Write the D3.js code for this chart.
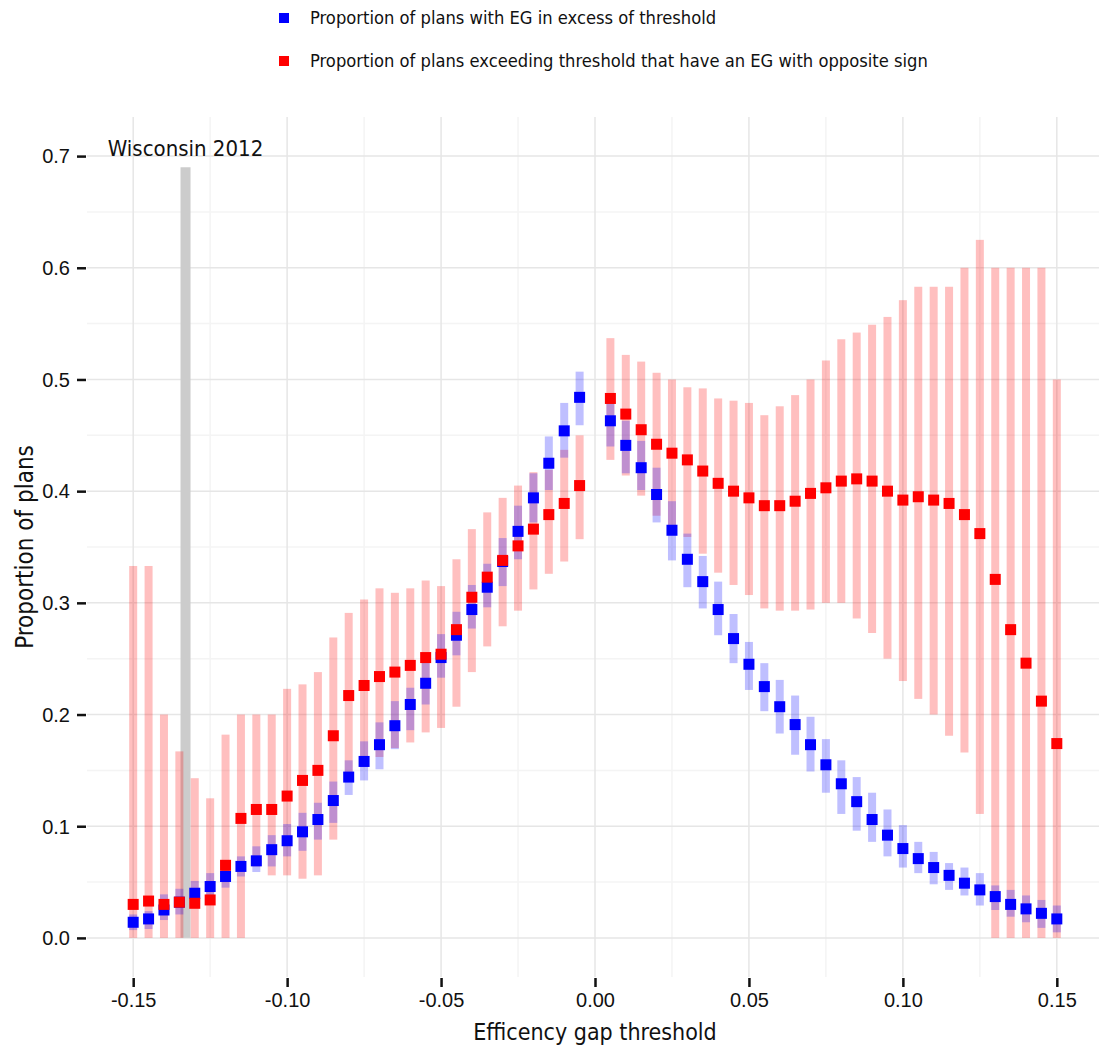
<!DOCTYPE html>
<html>
<head>
<meta charset="utf-8">
<script src="https://cdn.jsdelivr.net/npm/d3@7"></script>
<style>
	body { margin: 0; background: #fff; }
	svg { display: block; font-family: "DejaVu Sans Condensed", "Liberation Sans Narrow", "DejaVu Sans", sans-serif; font-stretch: condensed; }
	.tick text { fill: #111; }
</style>
</head>
<body>
<svg id="chart" width="1099" height="1049"></svg>
<script>
// efficiency gap thresholds (0 is not part of the run)
var thresholds = [-0.150, -0.145, -0.140, -0.135, -0.130, -0.125, -0.120, -0.115, -0.110, -0.105,
	-0.100, -0.095, -0.090, -0.085, -0.080, -0.075, -0.070, -0.065, -0.060, -0.055,
	-0.050, -0.045, -0.040, -0.035, -0.030, -0.025, -0.020, -0.015, -0.010, -0.005,
	0.005, 0.010, 0.015, 0.020, 0.025, 0.030, 0.035, 0.040, 0.045, 0.050,
	0.055, 0.060, 0.065, 0.070, 0.075, 0.080, 0.085, 0.090, 0.095, 0.100,
	0.105, 0.110, 0.115, 0.120, 0.125, 0.130, 0.135, 0.140, 0.145, 0.150];

// proportion of plans with EG in excess of threshold
var excess = [0.014, 0.017, 0.025, 0.032, 0.040, 0.046, 0.055, 0.064, 0.069, 0.079,
	0.087, 0.095, 0.106, 0.123, 0.144, 0.158, 0.173, 0.190, 0.209, 0.228,
	0.251, 0.271, 0.294, 0.314, 0.337, 0.364, 0.394, 0.425, 0.454, 0.484,
	0.463, 0.441, 0.421, 0.397, 0.365, 0.339, 0.319, 0.294, 0.268, 0.245,
	0.225, 0.207, 0.191, 0.173, 0.155, 0.138, 0.122, 0.106, 0.092, 0.080,
	0.071, 0.063, 0.056, 0.049, 0.043, 0.037, 0.030, 0.026, 0.022, 0.017];
var excessLow = [0.007, 0.008, 0.016, 0.021, 0.030, 0.037, 0.045, 0.055, 0.059, 0.064,
	0.073, 0.078, 0.088, 0.103, 0.128, 0.141, 0.151, 0.169, 0.186, 0.209,
	0.233, 0.253, 0.277, 0.296, 0.315, 0.339, 0.372, 0.401, 0.430, 0.459,
	0.440, 0.416, 0.401, 0.372, 0.338, 0.314, 0.295, 0.271, 0.246, 0.222,
	0.203, 0.183, 0.164, 0.149, 0.130, 0.111, 0.096, 0.086, 0.073, 0.063,
	0.058, 0.048, 0.043, 0.038, 0.029, 0.025, 0.019, 0.014, 0.009, 0.005];
var excessHigh = [0.021, 0.024, 0.039, 0.044, 0.051, 0.058, 0.063, 0.073, 0.082, 0.092,
	0.102, 0.112, 0.121, 0.140, 0.159, 0.176, 0.193, 0.212, 0.224, 0.247,
	0.272, 0.292, 0.316, 0.335, 0.358, 0.387, 0.416, 0.449, 0.479, 0.507,
	0.479, 0.463, 0.445, 0.421, 0.391, 0.362, 0.342, 0.319, 0.290, 0.265,
	0.246, 0.231, 0.217, 0.198, 0.178, 0.159, 0.144, 0.130, 0.115, 0.101,
	0.086, 0.077, 0.067, 0.063, 0.058, 0.047, 0.043, 0.038, 0.034, 0.029];

// proportion of plans exceeding threshold that have an EG with opposite sign
var opposite = [0.030, 0.033, 0.030, 0.032, 0.031, 0.034, 0.065, 0.107, 0.115, 0.115,
	0.127, 0.141, 0.150, 0.181, 0.217, 0.226, 0.234, 0.238, 0.244, 0.251,
	0.254, 0.276, 0.305, 0.323, 0.338, 0.351, 0.366, 0.379, 0.389, 0.405,
	0.483, 0.469, 0.455, 0.442, 0.434, 0.428, 0.418, 0.407, 0.400, 0.394,
	0.387, 0.387, 0.391, 0.398, 0.403, 0.409, 0.411, 0.409, 0.400, 0.392,
	0.395, 0.392, 0.389, 0.379, 0.362, 0.321, 0.276, 0.246, 0.212, 0.174];
var oppositeLow = [0, 0, 0, 0, 0, 0, 0, 0, 0.064, 0.056,
	0.056, 0.053, 0.056, 0.088, 0.143, 0.153, 0.162, 0.170, 0.175, 0.184,
	0.188, 0.207, 0.238, 0.261, 0.279, 0.293, 0.312, 0.326, 0.337, 0.357,
	0.428, 0.414, 0.396, 0.378, 0.361, 0.359, 0.344, 0.327, 0.316, 0.307,
	0.295, 0.293, 0.293, 0.294, 0.300, 0.300, 0.286, 0.273, 0.250, 0.230,
	0.214, 0.200, 0.181, 0.166, 0.111, 0, 0, 0, 0, 0];
var oppositeHigh = [0.333, 0.333, 0.200, 0.167, 0.143, 0.125, 0.182, 0.200, 0.200, 0.200,
	0.223, 0.227, 0.238, 0.269, 0.291, 0.303, 0.313, 0.309, 0.313, 0.320,
	0.315, 0.339, 0.366, 0.381, 0.394, 0.405, 0.417, 0.419, 0.437, 0.450,
	0.537, 0.522, 0.516, 0.506, 0.500, 0.493, 0.492, 0.483, 0.481, 0.479,
	0.468, 0.476, 0.486, 0.500, 0.517, 0.536, 0.542, 0.549, 0.556, 0.571,
	0.583, 0.583, 0.583, 0.600, 0.625, 0.600, 0.600, 0.600, 0.600, 0.500];

// Wisconsin 2012 observed efficiency gap
var wisconsin = {label: "Wisconsin 2012", eg: -0.133, top: 0.69};

var xTicks = [-0.15, -0.10, -0.05, 0.00, 0.05, 0.10, 0.15];
var yTicks = [0, 0.1, 0.2, 0.3, 0.4, 0.5, 0.6, 0.7];
var xMinor = [-0.125, -0.075, -0.025, 0.025, 0.075, 0.125];
var yMinor = [0.05, 0.15, 0.25, 0.35, 0.45, 0.55, 0.65];
var legendLabels = ["Proportion of plans with EG in excess of threshold",
	"Proportion of plans exceeding threshold that have an EG with opposite sign"];
var blue = "#0000ff", red = "#ff0000";

var svg = d3.select("#chart");
var panel = {left: 87, right: 1103, top: 117, bottom: 977};

var x = d3.scaleLinear().domain([-0.165, 0.165]).range([panel.left, panel.right]);
var y = d3.scaleLinear().domain([-0.035, 0.735]).range([panel.bottom, panel.top]);

var rows = thresholds.map(function (t, i) {
	return {t: t, b: excess[i], bl: excessLow[i], bh: excessHigh[i],
		r: opposite[i], rl: oppositeLow[i], rh: oppositeHigh[i]};
});

/**
* draws vertical and horizontal grid lines for the given values
*/
function gridLines(g, xs, ys, colour) {
	g.append("g").selectAll("line").data(xs).enter().append("line")
		.attr("x1", function (d) {return x(d);}).attr("x2", function (d) {return x(d);})
		.attr("y1", panel.top).attr("y2", panel.bottom)
		.attr("stroke", colour).attr("stroke-width", 1.5);
	g.append("g").selectAll("line").data(ys).enter().append("line")
		.attr("x1", panel.left).attr("x2", panel.right)
		.attr("y1", function (d) {return y(d);}).attr("y2", function (d) {return y(d);})
		.attr("stroke", colour).attr("stroke-width", 1.5);
}
var grid = svg.append("g");
gridLines(grid, xMinor, yMinor, "#f4f4f4");
gridLines(grid, xTicks, yTicks, "#e6e6e6");

// Wisconsin marker
svg.append("rect")
	.attr("x", x(wisconsin.eg) - 5).attr("width", 10)
	.attr("y", y(wisconsin.top)).attr("height", y(0) - y(wisconsin.top))
	.attr("fill", "#cccccc");
svg.append("text")
	.attr("x", x(wisconsin.eg)).attr("y", 156)
	.attr("text-anchor", "middle")
	.attr("font-size", 22).attr("fill", "#111")
	.text(wisconsin.label);

// interval bars
var barW = 8;
svg.append("g").selectAll("rect").data(rows).enter().append("rect")
	.attr("x", function (d) {return x(d.t) - barW / 2;}).attr("width", barW)
	.attr("y", function (d) {return y(d.rh);})
	.attr("height", function (d) {return y(d.rl) - y(d.rh);})
	.attr("fill", red).attr("fill-opacity", 0.25);
svg.append("g").selectAll("rect").data(rows).enter().append("rect")
	.attr("x", function (d) {return x(d.t) - barW / 2;}).attr("width", barW)
	.attr("y", function (d) {return y(d.bh);})
	.attr("height", function (d) {return y(d.bl) - y(d.bh);})
	.attr("fill", blue).attr("fill-opacity", 0.25);

// point estimates
var pt = 11;
svg.append("g").selectAll("rect").data(rows).enter().append("rect")
	.attr("x", function (d) {return x(d.t) - pt / 2;})
	.attr("y", function (d) {return y(d.b) - pt / 2;})
	.attr("width", pt).attr("height", pt).attr("fill", blue);
svg.append("g").selectAll("rect").data(rows).enter().append("rect")
	.attr("x", function (d) {return x(d.t) - pt / 2;})
	.attr("y", function (d) {return y(d.r) - pt / 2;})
	.attr("width", pt).attr("height", pt).attr("fill", red);

// axes
var xAxis = svg.append("g")
	.attr("transform", "translate(0," + (panel.bottom + 1) + ")")
	.call(d3.axisBottom(x).tickValues(xTicks).tickFormat(d3.format(".2f")).tickSize(9).tickPadding(6));
var yAxis = svg.append("g")
	.attr("transform", "translate(" + (panel.left - 1) + ",0)")
	.call(d3.axisLeft(y).tickValues(yTicks).tickFormat(d3.format(".1f")).tickSize(9).tickPadding(7));
[xAxis, yAxis].forEach(function (a) {
	a.select(".domain").remove();
	a.selectAll(".tick line").attr("stroke", "#111").attr("stroke-width", 2.5);
	a.selectAll(".tick text").attr("font-size", 20).attr("font-family", null);
});
xAxis.selectAll(".tick text").text(function (d) {return d3.format(".2f")(d).replace("−", "-");});
yAxis.selectAll(".tick text").attr("dy", "0.34em");

svg.append("text")
	.attr("x", (panel.left + panel.right) / 2).attr("y", 1040)
	.attr("text-anchor", "middle").attr("font-size", 23).attr("fill", "#111")
	.text("Efficency gap threshold");
svg.append("text")
	.attr("transform", "translate(33," + ((panel.top + panel.bottom) / 2) + ") rotate(-90)")
	.attr("text-anchor", "middle").attr("font-size", 24).attr("fill", "#111")
	.text("Proportion of plans");

// legend
var legend = svg.append("g").selectAll("g")
	.data(legendLabels).enter().append("g")
	.attr("transform", function (d, i) {return "translate(279," + (18 + i * 43) + ")";});
legend.append("rect")
	.attr("x", 0).attr("y", -5).attr("width", 10).attr("height", 10)
	.attr("fill", function (d, i) {return i == 0 ? blue : red;});
legend.append("text")
	.attr("x", 31).attr("dy", "0.35em")
	.attr("font-size", 18.2).attr("fill", "#111")
	.text(function (d) {return d;});
</script>
</body>
</html>
